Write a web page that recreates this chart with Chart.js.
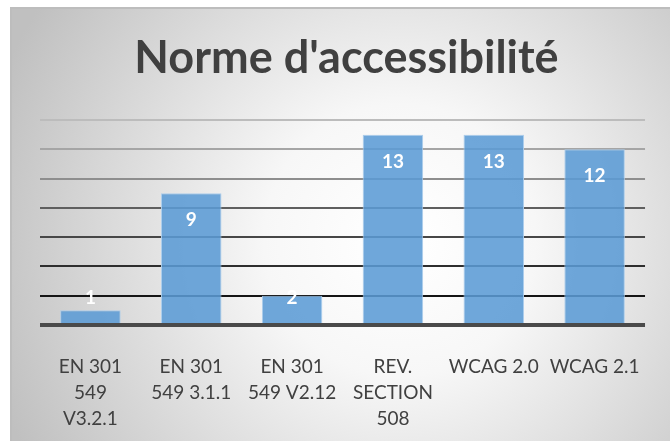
<!DOCTYPE html>
<html>
<head>
<meta charset="utf-8">
<script src="https://cdn.jsdelivr.net/npm/chart.js@4.4.0/dist/chart.umd.min.js"></script>
<style>
    html, body { margin: 0; padding: 0; background: #fff; }
    #wrap { width: 670px; height: 441px; position: relative; }
</style>
</head>
<body>
<div id="wrap"><canvas id="normeChart"></canvas></div>
<script>
const chartTitle = "Norme d'accessibilité";
const categories = [
    ['EN 301', '549', 'V3.2.1'],
    ['EN 301', '549 3.1.1'],
    ['EN 301', '549 V2.12'],
    ['REV.', 'SECTION', '508'],
    'WCAG 2.0',
    'WCAG 2.1'
];
const normeCounts = [1, 9, 2, 13, 13, 12];
const yTicks = [0, 2, 4, 6, 8, 10, 12, 14];
// gridline colours, from the bottom line (0) up to the top one (14)
const gridColors = ['#4a4a4a', '#151515', '#2e2e2e', '#474747', '#5f5f5f', '#8e8e8e', '#a5a5a5', '#bcbcbc'];

// grey gradient box behind the chart, like the office export
const backgroundPlugin = {
    id: 'officeBackground',
    beforeDraw: (chart) => {
        const ctx = chart.ctx;
        const w = chart.width;
        const h = chart.height;
        ctx.save();
        ctx.fillStyle = '#ffffff';
        ctx.fillRect(0, 0, w, h);
        const grad = ctx.createRadialGradient(400, 240, 10, 400, 240, 430);
        grad.addColorStop(0, '#ffffff');
        grad.addColorStop(0.3, '#f7f7f7');
        grad.addColorStop(1, '#c0c0c0');
        ctx.fillStyle = grad;
        ctx.fillRect(10, 7, w - 10, h - 7);
        ctx.strokeStyle = '#bdbdbd';
        ctx.lineWidth = 2;
        ctx.beginPath();
        ctx.moveTo(11, h);
        ctx.lineTo(11, 8);
        ctx.lineTo(w, 8);
        ctx.stroke();
        ctx.restore();
    }
};

// white value labels inside the bar tops
const valueLabelPlugin = {
    id: 'valueLabels',
    afterDatasetsDraw: (chart) => {
        const ctx = chart.ctx;
        const meta = chart.getDatasetMeta(0);
        ctx.save();
        ctx.fillStyle = '#ffffff';
        ctx.font = 'bold 19px Lato';
        ctx.textAlign = 'center';
        ctx.textBaseline = 'middle';
        meta.data.forEach((bar, i) => {
            const y = Math.min(bar.y + 27, bar.base - 25);
            ctx.fillText(String(chart.data.datasets[0].data[i]), bar.x, y);
        });
        ctx.restore();
    }
};

const ctx = document.getElementById('normeChart');
new Chart(ctx, {
    type: 'bar',
    data: {
        labels: categories,
        datasets: [{
            label: chartTitle,
            data: normeCounts,
            backgroundColor: 'rgba(91, 155, 213, 0.88)',
            borderColor: 'rgba(170, 204, 236, 0.95)',
            borderWidth: 1,
            barPercentage: 0.6,
            categoryPercentage: 1
        }]
    },
    options: {
        responsive: true,
        maintainAspectRatio: false,
        animation: false,
        layout: {
            padding: { top: 7, left: 40, right: 17, bottom: 8 }
        },
        scales: {
            x: {
                afterFit: (scale) => { scale.height = 108; },
                grid: { display: false, drawTicks: false },
                border: { display: false },
                ticks: {
                    color: '#404040',
                    padding: 29,
                    maxRotation: 0,
                    autoSkip: false,
                    font: { family: 'Lato', size: 19, lineHeight: 26 / 19 }
                }
            },
            y: {
                min: 0,
                max: 14,
                afterBuildTicks: (scale) => {
                    scale.ticks = yTicks.map(v => ({ value: v }));
                },
                afterFit: (scale) => { scale.width = 0; },
                ticks: { display: false },
                border: { display: false },
                grid: {
                    drawTicks: false,
                    color: (c) => gridColors[c.index],
                    lineWidth: (c) => c.index === 0 ? 4 : 2
                }
            }
        },
        plugins: {
            legend: { display: false },
            tooltip: { enabled: false },
            title: {
                display: true,
                text: chartTitle,
                color: '#404040',
                padding: { top: 24, bottom: 35 },
                font: { family: 'Lato', size: 45, weight: 'bold', lineHeight: 1.2 }
            }
        }
    },
    plugins: [backgroundPlugin, valueLabelPlugin]
});
</script>
</body>
</html>
